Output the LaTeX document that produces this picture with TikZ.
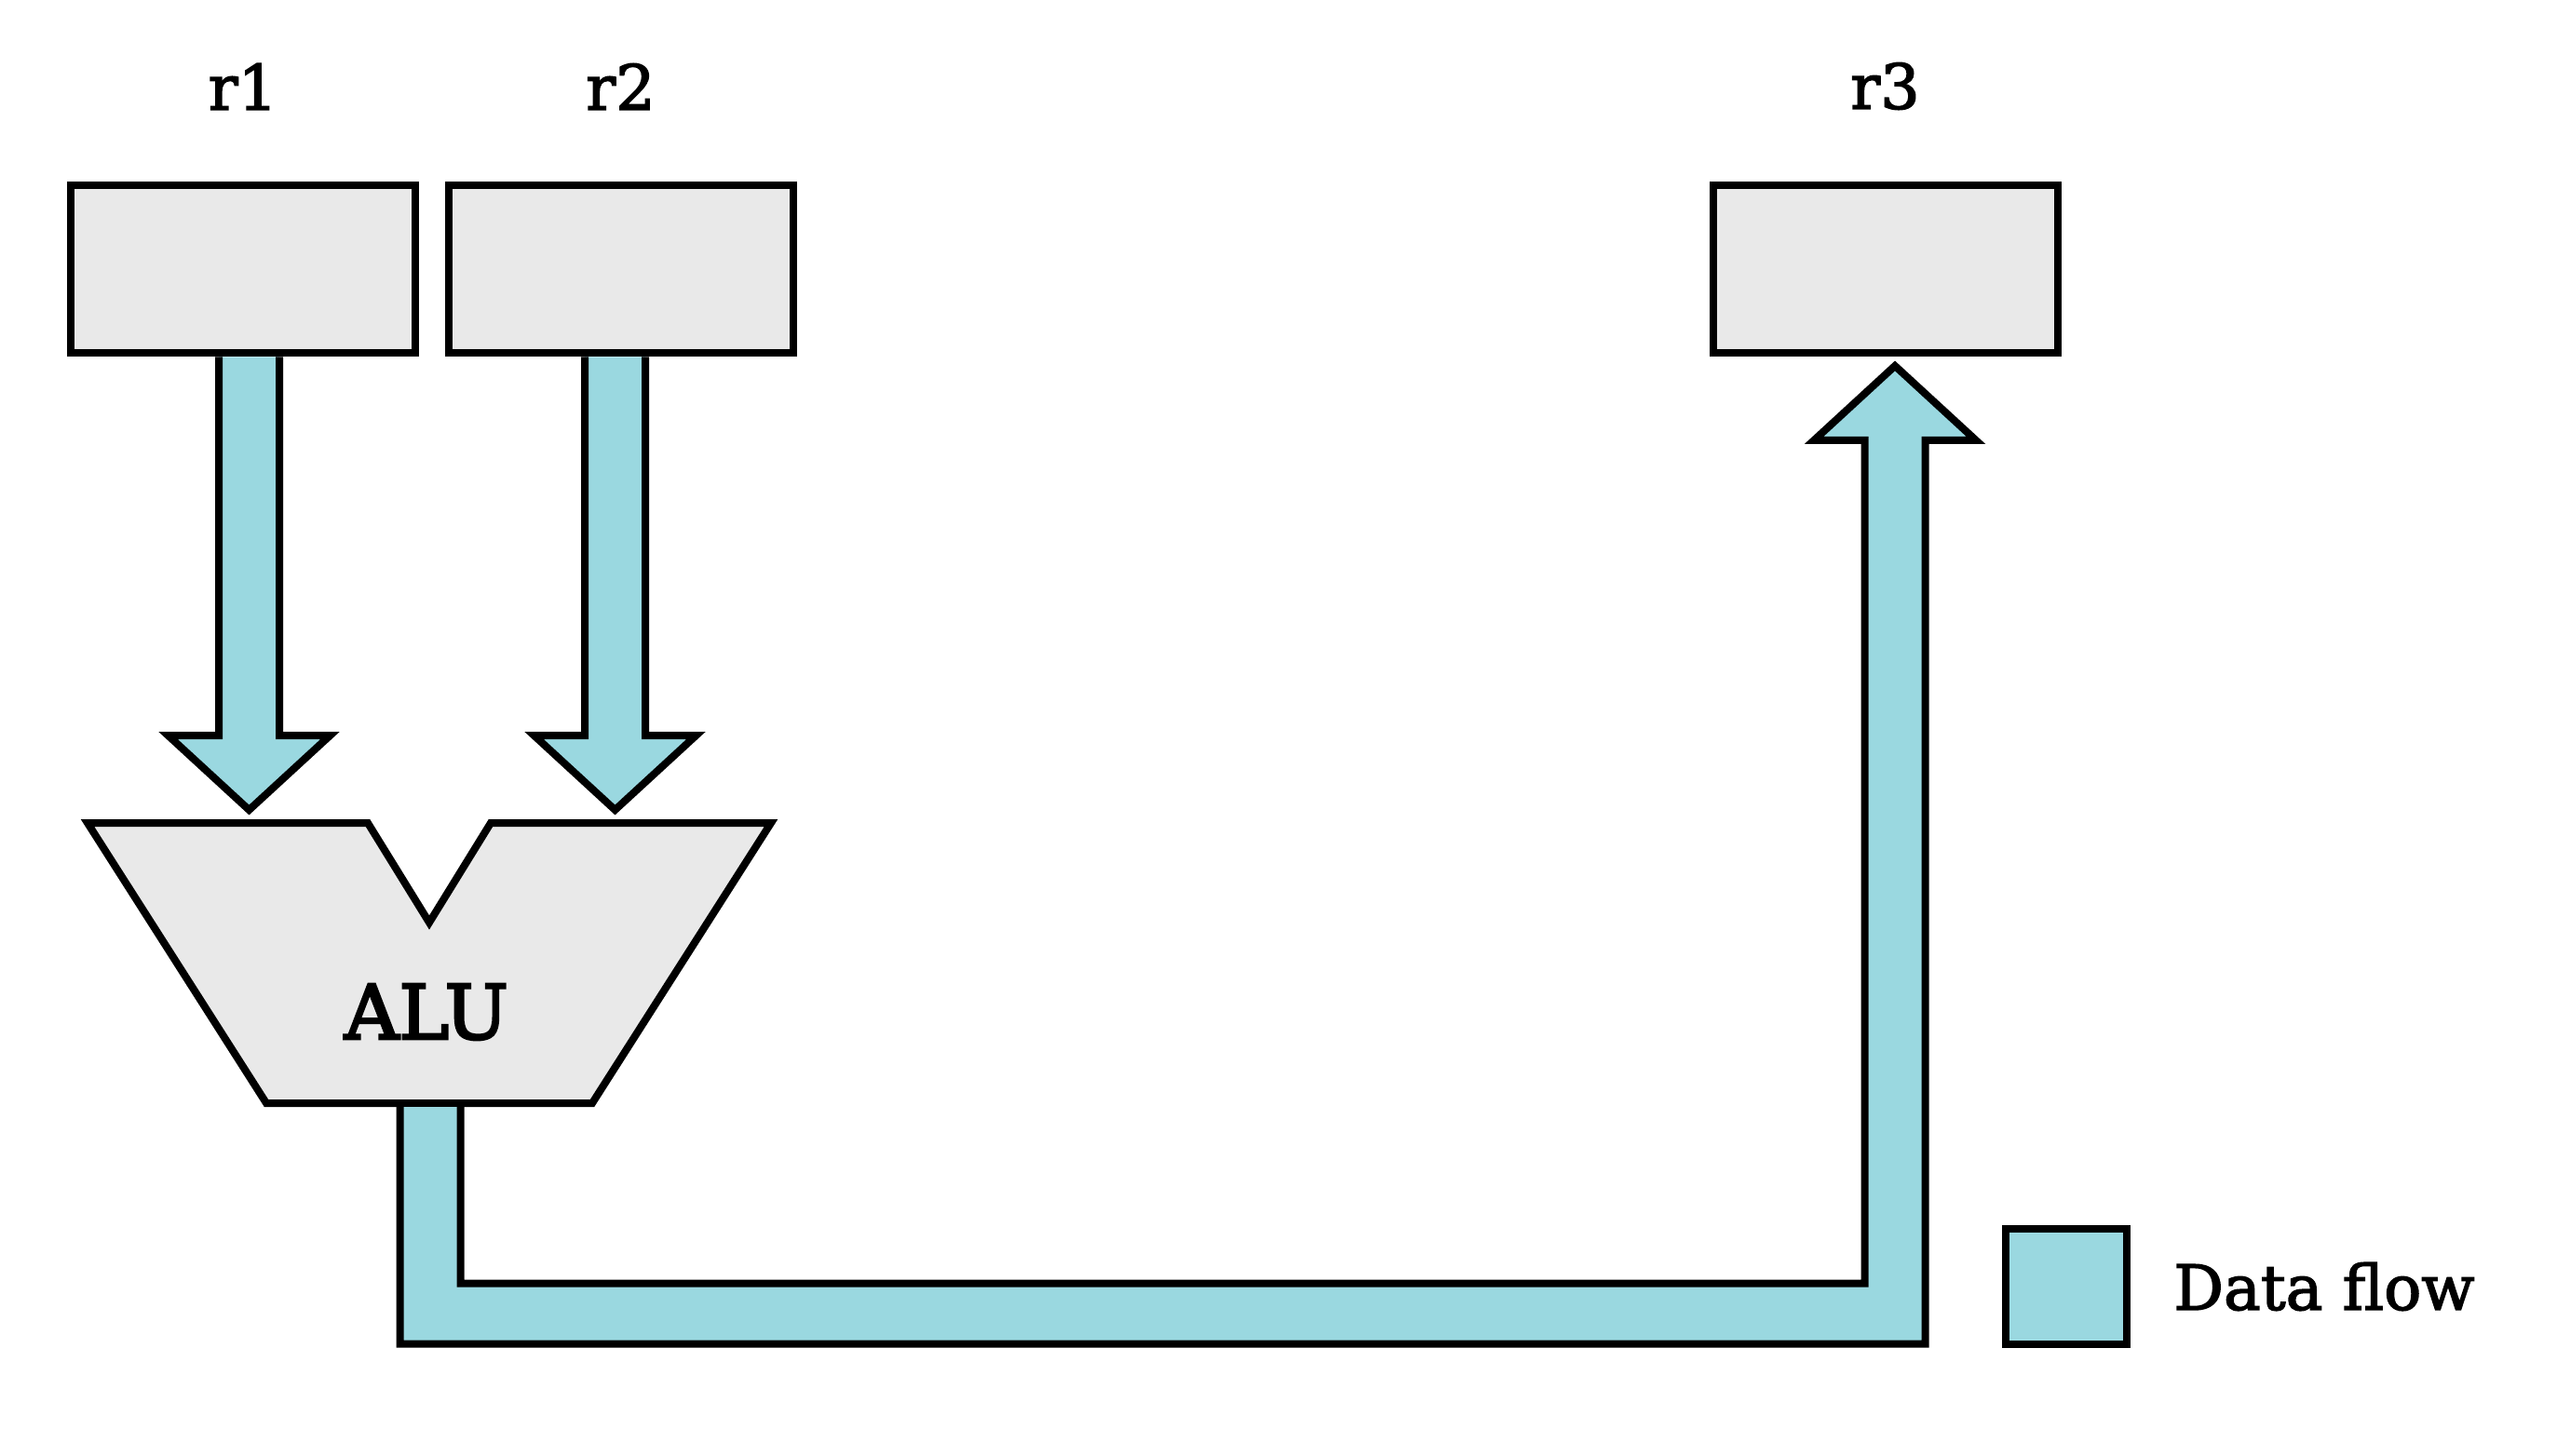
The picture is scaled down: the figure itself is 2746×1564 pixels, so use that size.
\documentclass[tikz,border=0pt]{standalone}
\usepackage{fontspec}
\setmainfont{DejaVu Serif}
\newfontfamily\slabfont[FakeBold=2.2]{DejaVu Serif}
\newfontfamily\alufont[FakeBold=3.5]{DejaVu Serif}
\usetikzlibrary{positioning,calc}
\definecolor{regfill}{RGB}{233,233,233}
\definecolor{flowblue}{RGB}{154,216,224}
\tikzset{
	reg/.style={draw, fill=regfill, line width=0.8mm, minimum width=37mm, minimum height=18mm},
	flow/.style={draw, fill=flowblue, line width=0.8mm},
	regname/.style={inner sep=0, font=\slabfont\fontsize{19}{23}\selectfont},
}
\begin{document}
\begin{tikzpicture}[x=0.1mm, y=-0.1mm]
	\useasboundingbox (0,0) rectangle (2746,1564);
	% registers
	\node (r1) [reg] at (261,289.5) {};
	\node (r2) [reg, right=2.75mm of r1] {};
	\node (r3) [reg, right=98mm of r2] {};
	\node (r1name) [regname, above=7.7mm of r1] {r1};
	\node (r2name) [regname, above=7.7mm of r2] {r2};
	\node (r3name) [regname, above=7.7mm of r3] {r3};
	% ALU
	\coordinate (A1) at (94,884);
	\coordinate (A2) at (395,884);
	\coordinate (A3) at (461,991);
	\coordinate (A4) at (527,884);
	\coordinate (A5) at (828,884);
	\coordinate (A6) at (636,1185);
	\coordinate (A7) at (286,1185);
	\draw[fill=regfill, line width=0.8mm] (A1)--(A2)--(A3)--(A4)--(A5)--(A6)--(A7)--cycle;
	\node (alu) [inner sep=0, font=\alufont\fontsize{23}{27}\selectfont] at (458,1087) {ALU};
	% data flow
	\coordinate (tip1) at (267.5,870);
	\coordinate (tip2) at (660.5,870);
	\coordinate (tip3) at (2035,393);
	\coordinate (top1) at (tip1 |- r1.south);
	\coordinate (top2) at (tip2 |- r2.south);
	\coordinate (out) at (462,1189);
	\coordinate (bend) at (2035,1411);
	\draw[flow] ($(top1)+(-32.5,0)$) -- ($(tip1)+(-32.5,-80)$) -- ($(tip1)+(-87,-80)$) -- (tip1)
		-- ($(tip1)+(87,-80)$) -- ($(tip1)+(32.5,-80)$) -- ($(top1)+(32.5,0)$);
	\draw[flow] ($(top2)+(-32.5,0)$) -- ($(tip2)+(-32.5,-80)$) -- ($(tip2)+(-87,-80)$) -- (tip2)
		-- ($(tip2)+(87,-80)$) -- ($(tip2)+(32.5,-80)$) -- ($(top2)+(32.5,0)$);
	\draw[flow] ($(out)+(-32.5,0)$) -- ($(out |- bend)+(-32.5,32.5)$) -- ($(bend)+(32.5,32.5)$)
		-- ($(tip3)+(32.5,80)$) -- ($(tip3)+(87,80)$) -- (tip3) -- ($(tip3)+(-87,80)$)
		-- ($(tip3)+(-32.5,80)$) -- ($(bend)+(-32.5,-32.5)$) -- ($(out |- bend)+(32.5,-32.5)$)
		-- ($(out)+(32.5,0)$);
	% legend
	\node (key) [flow, minimum width=12.95mm, minimum height=12.45mm] at (2219,1382) {};
	\node (keyname) [regname, right=4.6mm of key] {Data flow};
\end{tikzpicture}
\end{document}
